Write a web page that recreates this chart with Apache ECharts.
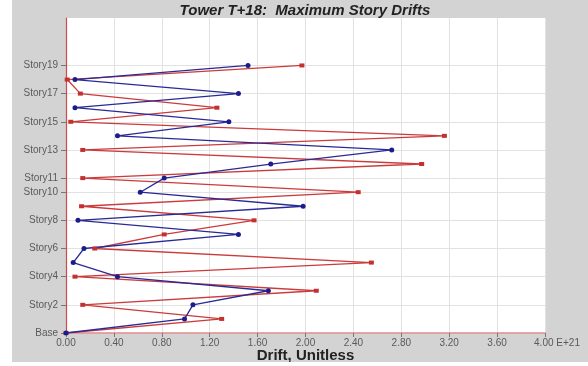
<!DOCTYPE html>
<html>
<head>
<meta charset="utf-8">
<script src="https://cdn.jsdelivr.net/npm/echarts@6/dist/echarts.min.js"></script>
<style>
  html, body { margin: 0; padding: 0; background: #fff; }
  #chart { position: absolute; left: 12px; top: 0; width: 576px; height: 362px; background: #d3d3d3; }
</style>
</head>
<body>
<div id="chart"></div>
<script>
// story levels, base = 0
const storyLevels = [0, 1, 2, 3, 4, 5, 6, 7, 8, 9, 10, 11, 12, 13, 14, 15, 16, 17, 18, 19]
const labeledLevels = [0, 2, 4, 6, 8, 10, 11, 13, 15, 17, 19]
const labeledNames = ['Base', 'Story2', 'Story4', 'Story6', 'Story8', 'Story10', 'Story11', 'Story13', 'Story15', 'Story17', 'Story19']

// drifts, one per level
const driftRed = [0, 1.30, 0.14, 2.09, 0.075, 2.55, 0.24, 0.82, 1.57, 0.13, 2.44, 0.14, 2.97, 0.14, 3.16, 0.04, 1.26, 0.12, 0.01, 1.97]
const driftBlue = [0, 0.99, 1.06, 1.69, 0.43, 0.06, 0.15, 1.44, 0.10, 1.98, 0.62, 0.82, 1.71, 2.72, 0.43, 1.36, 0.075, 1.44, 0.075, 1.52]

const xTickLabels = ['0.00', '0.40', '0.80', '1.20', '1.60', '2.00', '2.40', '2.80', '3.20', '3.60', '4.00 E+21']

const chart = echarts.init(document.getElementById('chart'))

const labelStyle = { color: '#5a5a5a', fontSize: 10, fontFamily: 'Liberation Sans' }

chart.setOption({
  backgroundColor: 'transparent',
  animation: false,
  title: {
    text: 'Tower T+18:  Maximum Story Drifts',
    left: 293, top: 3, padding: 0, textAlign: 'center',
    textStyle: { fontSize: 15, fontWeight: 'bold', fontStyle: 'italic', color: '#222', fontFamily: 'Liberation Sans' }
  },
  grid: {
    left: 54, right: 43, top: 18, bottom: 29, outerBoundsMode: 'none',
    show: true, backgroundColor: '#fff', borderWidth: 0
  },
  xAxis: {
    type: 'value', min: 0, max: 4, interval: 0.4,
    name: 'Drift, Unitless', nameLocation: 'middle', nameGap: 15, nameMoveOverlap: false,
    nameTextStyle: { fontSize: 15, fontWeight: 'bold', color: '#222', fontFamily: 'Liberation Sans' },
    axisLine: { lineStyle: { color: '#e08a8a', width: 1.5 } },
    axisTick: { show: true, length: 4, lineStyle: { color: '#777' } },
    axisLabel: {
      ...labelStyle, margin: 5,
      formatter: v => {
        const i = Math.round(v / 0.4)
        return i === xTickLabels.length - 1 ? '{e|' + xTickLabels[i] + '}' : xTickLabels[i]
      },
      rich: { e: { ...labelStyle, padding: [0, 0, 0, 24] } }
    },
    splitLine: { show: true, lineStyle: { color: '#e2e2e2' } }
  },
  yAxis: {
    type: 'value', min: 0, max: 22.37,
    axisLine: { show: true, lineStyle: { color: '#d04a4a', width: 1.2 } },
    axisTick: { show: true, length: 5, customValues: labeledLevels, lineStyle: { color: '#777' } },
    axisLabel: {
      ...labelStyle, margin: 8, customValues: labeledLevels,
      formatter: v => labeledNames[labeledLevels.indexOf(v)]
    },
    splitLine: { show: true, lineStyle: { color: '#e2e2e2' } }
  },
  series: [
    {
      type: 'line', name: 'red',
      data: storyLevels.map((lv, i) => [driftRed[i], lv]),
      symbol: 'rect', symbolSize: [5, 4],
      lineStyle: { color: '#cc3b3b', width: 1.3 },
      itemStyle: { color: '#c43030' }
    },
    {
      type: 'line', name: 'blue',
      data: storyLevels.map((lv, i) => [driftBlue[i], lv]),
      symbol: 'circle', symbolSize: 5,
      lineStyle: { color: '#2a2a96', width: 1.3 },
      itemStyle: { color: '#1c1c8a' }
    }
  ]
})
</script>
</body>
</html>
